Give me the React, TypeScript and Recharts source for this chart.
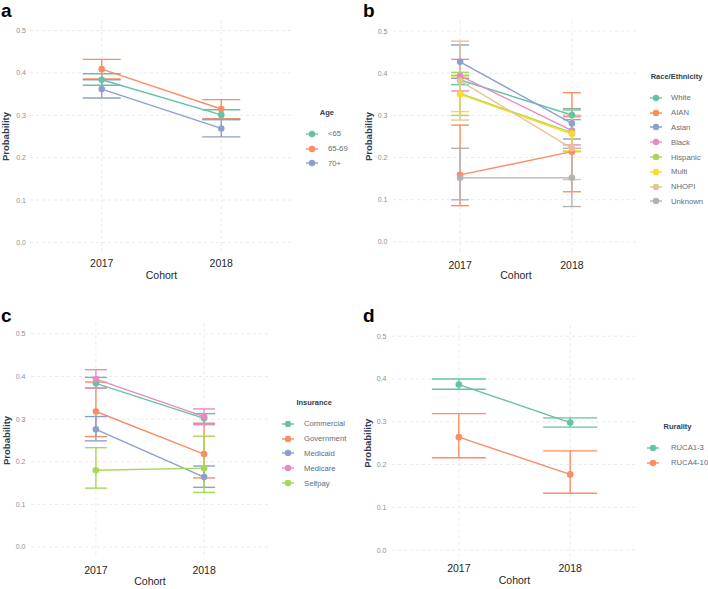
// Four-panel cohort plot: predicted probability by group, 2017 vs 2018, with CIs.
import { LineChart, Line, XAxis, YAxis, CartesianGrid, ErrorBar } from 'recharts';

const cohorts = ['2017', '2018'];
const xTicks = [1, 2];
const xDomain = [0.4, 2.6];
const yTicks = [0, 0.1, 0.2, 0.3, 0.4, 0.5];
const yDomain = [-0.025, 0.525];
const set2 = ['#66C2A5', '#FC8D62', '#8DA0CB', '#E78AC3', '#A6D854', '#FFD92F', '#E5C494', '#B3B3B3'];

// a — Age
const ageGroups = ['<65', '65-69', '70+'];
const ageEst = [[0.384, 0.301], [0.409, 0.315], [0.362, 0.269]];
const ageLow = [[0.371, 0.29], [0.386, 0.292], [0.341, 0.249]];
const ageHigh = [[0.398, 0.313], [0.432, 0.337], [0.384, 0.29]];

// b — Race/Ethnicity
const raceGroups = ['White', 'AIAN', 'Asian', 'Black', 'Hispanic', 'Multi', 'NHOPI', 'Unknown'];
const raceEst = [[0.384, 0.301], [0.159, 0.214], [0.427, 0.281], [0.394, 0.264], [0.352, 0.259], [0.35, 0.256], [0.382, 0.222], [0.152, 0.152]];
const raceLow = [[0.373, 0.29], [0.086, 0.119], [0.388, 0.244], [0.358, 0.23], [0.3, 0.214], [0.309, 0.216], [0.289, 0.148], [0.1, 0.084]];
const raceHigh = [[0.395, 0.313], [0.277, 0.354], [0.467, 0.316], [0.433, 0.297], [0.402, 0.314], [0.393, 0.3], [0.476, 0.3], [0.222, 0.222]];

// c — Insurance
const insGroups = ['Commercial', 'Government', 'Medicaid', 'Medicare', 'Selfpay'];
const insEst = [[0.384, 0.302], [0.318, 0.218], [0.276, 0.164], [0.394, 0.306], [0.18, 0.185]];
const insLow = [[0.373, 0.29], [0.259, 0.162], [0.249, 0.14], [0.373, 0.287], [0.138, 0.128]];
const insHigh = [[0.398, 0.313], [0.387, 0.29], [0.306, 0.19], [0.416, 0.324], [0.233, 0.26]];

// d — Rurality
const ruralGroups = ['RUCA1-3', 'RUCA4-10'];
const ruralEst = [[0.387, 0.298], [0.264, 0.177]];
const ruralLow = [[0.376, 0.2875], [0.216, 0.133]];
const ruralHigh = [[0.4, 0.309], [0.319, 0.232]];

const FONT = '"Liberation Sans", Arial, sans-serif';

function buildRows(names: string[], est: number[][], low: number[][], high: number[][]) {
  return cohorts.map((_, j) => {
    const row: any = { x: j + 1 };
    names.forEach((_n, i) => {
      row['s' + i] = est[i][j];
      row['e' + i] = [est[i][j] - low[i][j], high[i][j] - est[i][j]];
    });
    return row;
  });
}

// grid only at the major breaks (no lines on the panel edges)
function gridX(args: any) {
  const s = args?.xAxis?.scale;
  if (typeof s === 'function') return xTicks.map((v) => s(v));
  const o = args.offset;
  return xTicks.map((v) => o.left + (o.width * (v - xDomain[0])) / (xDomain[1] - xDomain[0]));
}
function gridY(args: any) {
  const s = args?.yAxis?.scale;
  if (typeof s === 'function') return yTicks.map((v) => s(v));
  const o = args.offset;
  return yTicks.map((v) => o.top + (o.height * (yDomain[1] - v)) / (yDomain[1] - yDomain[0]));
}

const panels = [
  {
    letter: 'a', title: 'Age', names: ageGroups, rows: buildRows(ageGroups, ageEst, ageLow, ageHigh),
    left: 0, top: 0, w: 354, h: 295, margin: { top: 20, right: 61, left: 0, bottom: 0 }, xH: 42,
    yTickGap: 4, xTickGap: 6.5, cohortDy: 26.3, cap: 19,
    legend: { x: 306, titleY: 113, labelGap: 10 },
  },
  {
    letter: 'b', title: 'Race/Ethnicity', names: raceGroups, rows: buildRows(raceGroups, raceEst, raceLow, raceHigh),
    left: 354, top: 0, w: 354, h: 295, margin: { top: 20.5, right: 69, left: 9, bottom: 0 }, xH: 42.5,
    yTickGap: 5.5, xTickGap: 9, cohortDy: 26.8, cap: 9,
    legend: { x: 650, titleY: 77, labelGap: 9 },
  },
  {
    letter: 'c', title: 'Insurance', names: insGroups, rows: buildRows(insGroups, insEst, insLow, insHigh),
    left: 0, top: 295, w: 354, h: 294, margin: { top: 28.3, right: 85, left: 1, bottom: 0 }, xH: 31.4,
    yTickGap: 5.5, xTickGap: 9, cohortDy: 27.4, cap: 11,
    legend: { x: 282, titleY: 403, labelGap: 10 },
  },
  {
    letter: 'd', title: 'Rurality', names: ruralGroups, rows: buildRows(ruralGroups, ruralEst, ruralLow, ruralHigh),
    left: 354, top: 295, w: 354, h: 294, margin: { top: 30.5, right: 71, left: 8, bottom: 0 }, xH: 28.2,
    yTickGap: 5.5, xTickGap: 4, cohortDy: 23, cap: 27,
    legend: { x: 647, titleY: 427, labelGap: 12 },
  },
];

function Legend({ p }: { p: (typeof panels)[number] }) {
  return (
    <div
      style={{
        position: 'absolute', left: p.legend.x, top: p.legend.titleY - 5, fontFamily: FONT,
        display: 'flex', flexDirection: 'column', width: 'max-content', whiteSpace: 'nowrap',
      }}
    >
      <div style={{ textAlign: 'center', fontWeight: 'bold', fontSize: 7.5, color: '#2d3e50', lineHeight: '10px', marginBottom: 8.5 }}>
        {p.title}
      </div>
      {p.names.map((n, i) => (
        <div key={n} style={{ display: 'flex', alignItems: 'center', height: 14.8 }}>
          <svg width={12} height={8} style={{ display: 'block', flex: 'none' }}>
            <line x1={0} y1={4} x2={12} y2={4} stroke={set2[i]} strokeWidth={1.4} />
            <circle cx={6} cy={4} r={3.2} fill={set2[i]} />
          </svg>
          <span style={{ marginLeft: p.legend.labelGap, fontSize: 7.7, color: '#5f6b7a' }}>{n}</span>
        </div>
      ))}
    </div>
  );
}

function Panel({ p }: { p: (typeof panels)[number] }) {
  return (
    <>
      <div style={{ position: 'absolute', left: p.left, top: p.top }}>
        <LineChart width={p.w} height={p.h} data={p.rows} margin={p.margin}>
          <CartesianGrid
            stroke="#e4e4e4" strokeDasharray="3 3" strokeWidth={0.8}
            verticalCoordinatesGenerator={gridX}
            horizontalCoordinatesGenerator={gridY}
          />
          <XAxis
            dataKey="x" type="number" domain={xDomain} ticks={xTicks} height={p.xH}
            tickFormatter={(v: number) => cohorts[v - 1]} axisLine={false} tickLine={false} tickSize={0}
            tickMargin={p.xTickGap} tick={{ fontSize: 10.5, fill: '#1f1f1f', fontFamily: FONT }}
            label={(props: any) => {
              const vb = props.viewBox;
              return (
                <text x={vb.x + vb.width / 2} y={vb.y + p.cohortDy} textAnchor="middle" fontSize={10.5} fill="#1f1f1f" fontFamily={FONT}>
                  Cohort
                </text>
              );
            }}
          />
          <YAxis
            type="number" domain={yDomain} ticks={yTicks} width={30} axisLine={false} tickLine={false}
            tickSize={0} tickMargin={p.yTickGap} tickFormatter={(v: number) => v.toFixed(1)}
            tick={{ fontSize: 7, fill: '#8a8f99', fontFamily: FONT }}
            label={(props: any) => {
              const vb = props.viewBox;
              const cx = vb.x + vb.width - 24.5;
              const cy = vb.y + vb.height / 2;
              return (
                <text x={cx} y={cy} transform={`rotate(-90 ${cx} ${cy})`} textAnchor="middle" dominantBaseline="central"
                  fontSize={9.5} fontWeight="bold" fill="#2c3e50" fontFamily={FONT}>
                  Probability
                </text>
              );
            }}
          />
          {p.names.map((n, i) => (
            <Line
              key={n} dataKey={'s' + i} stroke={set2[i]} strokeWidth={1.4} isAnimationActive={false}
              dot={{ r: 3.3, fill: set2[i], stroke: set2[i], strokeWidth: 0 }} activeDot={false}
            >
              <ErrorBar dataKey={'e' + i} width={p.cap} stroke={set2[i]} strokeWidth={1.4} direction="y" isAnimationActive={false} />
            </Line>
          ))}
        </LineChart>
      </div>
      <div style={{
        position: 'absolute', left: p.left + (p.letter === 'a' || p.letter === 'c' ? 1 : 9), top: p.top + (p.top === 0 ? 1 : 11),
        fontFamily: FONT, fontWeight: 'bold', fontSize: 19, lineHeight: '20px', color: '#000',
      }}>
        {p.letter}
      </div>
      <Legend p={p} />
    </>
  );
}

export default function App() {
  return (
    <div style={{ position: 'absolute', left: 0, top: 0, width: 708, height: 589, background: '#fff' }}>
      {panels.map((p) => <Panel key={p.letter} p={p} />)}
    </div>
  );
}
